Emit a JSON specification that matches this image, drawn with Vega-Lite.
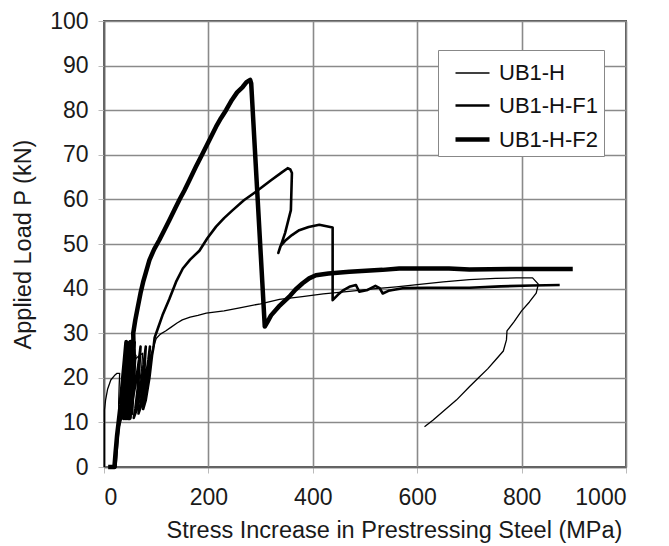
{
  "$schema": "https://vega.github.io/schema/vega-lite/v6.json",
  "width": 522,
  "height": 446,
  "autosize": {"type": "none"},
  "padding": {"left": 104, "top": 21, "right": 43, "bottom": 79},
  "background": "white",
  "config": {
    "font": "Liberation Sans",
    "view": {"stroke": "#555", "strokeWidth": 2},
    "axis": {
      "grid": true,
      "gridColor": "#8a8a8a",
      "gridWidth": 1.6,
      "gridOpacity": 1,
      "domainColor": "#666",
      "domainWidth": 1.6,
      "tickColor": "#bbb",
      "tickSize": 6,
      "labelFont": "Liberation Sans",
      "labelFontSize": 23,
      "labelColor": "#1a1a1a",
      "titleFont": "Liberation Sans",
      "titleFontSize": 23.5,
      "titleFontWeight": "normal",
      "titleColor": "#1a1a1a"
    }
  },
  "data": {
    "values": [
      {"s":"UB1-H","i":1,"x":1,"y":0},{"s":"UB1-H","i":2,"x":1,"y":12.8},{"s":"UB1-H","i":3,"x":3,"y":15},{"s":"UB1-H","i":4,"x":7,"y":17.5},{"s":"UB1-H","i":5,"x":13,"y":19.5},{"s":"UB1-H","i":6,"x":20,"y":20.5},{"s":"UB1-H","i":7,"x":25,"y":21},{"s":"UB1-H","i":8,"x":30,"y":21},{"s":"UB1-H","i":9,"x":29,"y":18},{"s":"UB1-H","i":10,"x":28,"y":14},{"s":"UB1-H","i":11,"x":30,"y":11},{"s":"UB1-H","i":12,"x":33,"y":13},{"s":"UB1-H","i":13,"x":40,"y":17},{"s":"UB1-H","i":14,"x":48,"y":20.5},{"s":"UB1-H","i":15,"x":55,"y":23},{"s":"UB1-H","i":16,"x":61.5,"y":24.4},{"s":"UB1-H","i":17,"x":68,"y":25},{"s":"UB1-H","i":18,"x":74,"y":25.5},{"s":"UB1-H","i":19,"x":72,"y":22},{"s":"UB1-H","i":20,"x":66,"y":17},{"s":"UB1-H","i":21,"x":62,"y":13},{"s":"UB1-H","i":22,"x":65,"y":13},{"s":"UB1-H","i":23,"x":72,"y":17},{"s":"UB1-H","i":24,"x":80,"y":21},{"s":"UB1-H","i":25,"x":88,"y":24.5},{"s":"UB1-H","i":26,"x":95,"y":27},{"s":"UB1-H","i":27,"x":100,"y":28.8},{"s":"UB1-H","i":28,"x":108,"y":29.8},{"s":"UB1-H","i":29,"x":118,"y":30.5},{"s":"UB1-H","i":30,"x":128,"y":31.3},{"s":"UB1-H","i":31,"x":140,"y":32.3},{"s":"UB1-H","i":32,"x":150,"y":33},{"s":"UB1-H","i":33,"x":165,"y":33.6},{"s":"UB1-H","i":34,"x":180,"y":34},{"s":"UB1-H","i":35,"x":196,"y":34.5},{"s":"UB1-H","i":36,"x":230,"y":35},{"s":"UB1-H","i":37,"x":260,"y":35.7},{"s":"UB1-H","i":38,"x":300,"y":36.6},{"s":"UB1-H","i":39,"x":336,"y":37.6},{"s":"UB1-H","i":40,"x":380,"y":38.2},{"s":"UB1-H","i":41,"x":420,"y":38.8},{"s":"UB1-H","i":42,"x":470,"y":39.4},{"s":"UB1-H","i":43,"x":520,"y":40},{"s":"UB1-H","i":44,"x":560,"y":40.4},{"s":"UB1-H","i":45,"x":600,"y":40.9},{"s":"UB1-H","i":46,"x":650,"y":41.5},{"s":"UB1-H","i":47,"x":700,"y":42},{"s":"UB1-H","i":48,"x":750,"y":42.3},{"s":"UB1-H","i":49,"x":790,"y":42.4},{"s":"UB1-H","i":50,"x":821,"y":42.4},{"s":"UB1-H","i":51,"x":832,"y":41},{"s":"UB1-H","i":52,"x":828,"y":39},{"s":"UB1-H","i":53,"x":815,"y":37},{"s":"UB1-H","i":54,"x":800,"y":35},{"s":"UB1-H","i":55,"x":785,"y":32.5},{"s":"UB1-H","i":56,"x":772,"y":30.5},{"s":"UB1-H","i":57,"x":771,"y":28.5},{"s":"UB1-H","i":58,"x":765,"y":26},{"s":"UB1-H","i":59,"x":750,"y":24},{"s":"UB1-H","i":60,"x":735,"y":22},{"s":"UB1-H","i":61,"x":719,"y":20.2},{"s":"UB1-H","i":62,"x":700,"y":18},{"s":"UB1-H","i":63,"x":675,"y":15},{"s":"UB1-H","i":64,"x":650,"y":12.5},{"s":"UB1-H","i":65,"x":630,"y":10.5},{"s":"UB1-H","i":66,"x":614,"y":9},
      {"s":"UB1-H-F1","i":101,"x":14,"y":0},{"s":"UB1-H-F1","i":102,"x":22,"y":0},{"s":"UB1-H-F1","i":103,"x":25,"y":5},{"s":"UB1-H-F1","i":104,"x":28,"y":9},{"s":"UB1-H-F1","i":105,"x":33,"y":11},{"s":"UB1-H-F1","i":106,"x":40,"y":13},{"s":"UB1-H-F1","i":107,"x":48,"y":17},{"s":"UB1-H-F1","i":108,"x":55,"y":21},{"s":"UB1-H-F1","i":109,"x":60,"y":25},{"s":"UB1-H-F1","i":110,"x":56,"y":17},{"s":"UB1-H-F1","i":111,"x":50,"y":12},{"s":"UB1-H-F1","i":112,"x":47,"y":11},{"s":"UB1-H-F1","i":113,"x":53,"y":14},{"s":"UB1-H-F1","i":114,"x":61,"y":19},{"s":"UB1-H-F1","i":115,"x":67,"y":24},{"s":"UB1-H-F1","i":116,"x":70,"y":27},{"s":"UB1-H-F1","i":117,"x":66,"y":19},{"s":"UB1-H-F1","i":118,"x":60,"y":13},{"s":"UB1-H-F1","i":119,"x":57,"y":11},{"s":"UB1-H-F1","i":120,"x":63,"y":13},{"s":"UB1-H-F1","i":121,"x":70,"y":18},{"s":"UB1-H-F1","i":122,"x":76,"y":23},{"s":"UB1-H-F1","i":123,"x":80,"y":27},{"s":"UB1-H-F1","i":124,"x":76,"y":19},{"s":"UB1-H-F1","i":125,"x":70,"y":14},{"s":"UB1-H-F1","i":126,"x":66,"y":12},{"s":"UB1-H-F1","i":127,"x":72,"y":14},{"s":"UB1-H-F1","i":128,"x":79,"y":19},{"s":"UB1-H-F1","i":129,"x":85,"y":24},{"s":"UB1-H-F1","i":130,"x":88,"y":27},{"s":"UB1-H-F1","i":131,"x":84,"y":20},{"s":"UB1-H-F1","i":132,"x":78,"y":15},{"s":"UB1-H-F1","i":133,"x":75,"y":13},{"s":"UB1-H-F1","i":134,"x":80,"y":15},{"s":"UB1-H-F1","i":135,"x":87,"y":20},{"s":"UB1-H-F1","i":136,"x":92,"y":25},{"s":"UB1-H-F1","i":137,"x":95,"y":27},{"s":"UB1-H-F1","i":138,"x":97,"y":29},{"s":"UB1-H-F1","i":139,"x":103,"y":31},{"s":"UB1-H-F1","i":140,"x":112,"y":34},{"s":"UB1-H-F1","i":141,"x":125,"y":37.6},{"s":"UB1-H-F1","i":142,"x":138,"y":41.5},{"s":"UB1-H-F1","i":143,"x":151,"y":44.5},{"s":"UB1-H-F1","i":144,"x":165,"y":46.5},{"s":"UB1-H-F1","i":145,"x":182.8,"y":48.5},{"s":"UB1-H-F1","i":146,"x":198,"y":51.3},{"s":"UB1-H-F1","i":147,"x":214.7,"y":53.9},{"s":"UB1-H-F1","i":148,"x":230,"y":55.8},{"s":"UB1-H-F1","i":149,"x":246.6,"y":57.6},{"s":"UB1-H-F1","i":150,"x":268,"y":59.8},{"s":"UB1-H-F1","i":151,"x":291,"y":61.7},{"s":"UB1-H-F1","i":152,"x":320,"y":64.3},{"s":"UB1-H-F1","i":153,"x":340,"y":66},{"s":"UB1-H-F1","i":154,"x":351.8,"y":67},{"s":"UB1-H-F1","i":155,"x":357,"y":66.7},{"s":"UB1-H-F1","i":156,"x":360,"y":65.9},{"s":"UB1-H-F1","i":157,"x":358,"y":57.6},{"s":"UB1-H-F1","i":158,"x":347,"y":52.5},{"s":"UB1-H-F1","i":159,"x":334,"y":48},{"s":"UB1-H-F1","i":160,"x":338,"y":49.5},{"s":"UB1-H-F1","i":161,"x":348.7,"y":50.9},{"s":"UB1-H-F1","i":162,"x":360,"y":52},{"s":"UB1-H-F1","i":163,"x":374,"y":53.1},{"s":"UB1-H-F1","i":164,"x":392,"y":53.8},{"s":"UB1-H-F1","i":165,"x":412.4,"y":54.3},{"s":"UB1-H-F1","i":166,"x":438,"y":53.7},{"s":"UB1-H-F1","i":167,"x":438,"y":37.4},{"s":"UB1-H-F1","i":168,"x":448,"y":38.6},{"s":"UB1-H-F1","i":169,"x":458,"y":39.6},{"s":"UB1-H-F1","i":170,"x":470,"y":40.4},{"s":"UB1-H-F1","i":171,"x":482.7,"y":40.8},{"s":"UB1-H-F1","i":172,"x":489,"y":39.3},{"s":"UB1-H-F1","i":173,"x":505,"y":39.7},{"s":"UB1-H-F1","i":174,"x":520,"y":40.6},{"s":"UB1-H-F1","i":175,"x":528,"y":40.1},{"s":"UB1-H-F1","i":176,"x":534,"y":38.9},{"s":"UB1-H-F1","i":177,"x":545,"y":39.5},{"s":"UB1-H-F1","i":178,"x":572,"y":40.1},{"s":"UB1-H-F1","i":179,"x":620,"y":40.2},{"s":"UB1-H-F1","i":180,"x":700,"y":40.2},{"s":"UB1-H-F1","i":181,"x":760,"y":40.5},{"s":"UB1-H-F1","i":182,"x":820,"y":40.7},{"s":"UB1-H-F1","i":183,"x":873,"y":40.8},
      {"s":"UB1-H-F2","i":201,"x":8,"y":0},{"s":"UB1-H-F2","i":202,"x":20,"y":0},{"s":"UB1-H-F2","i":203,"x":22,"y":3},{"s":"UB1-H-F2","i":204,"x":25,"y":7},{"s":"UB1-H-F2","i":205,"x":28,"y":10},{"s":"UB1-H-F2","i":206,"x":32,"y":14},{"s":"UB1-H-F2","i":207,"x":36,"y":19},{"s":"UB1-H-F2","i":208,"x":40,"y":24},{"s":"UB1-H-F2","i":209,"x":43,"y":28},{"s":"UB1-H-F2","i":210,"x":40,"y":18},{"s":"UB1-H-F2","i":211,"x":36,"y":12},{"s":"UB1-H-F2","i":212,"x":38,"y":11},{"s":"UB1-H-F2","i":213,"x":42,"y":16},{"s":"UB1-H-F2","i":214,"x":45,"y":22},{"s":"UB1-H-F2","i":215,"x":47,"y":27},{"s":"UB1-H-F2","i":216,"x":44,"y":18},{"s":"UB1-H-F2","i":217,"x":40,"y":12},{"s":"UB1-H-F2","i":218,"x":42,"y":11},{"s":"UB1-H-F2","i":219,"x":46,"y":16},{"s":"UB1-H-F2","i":220,"x":49,"y":23},{"s":"UB1-H-F2","i":221,"x":51,"y":28},{"s":"UB1-H-F2","i":222,"x":48,"y":19},{"s":"UB1-H-F2","i":223,"x":44,"y":12},{"s":"UB1-H-F2","i":224,"x":46,"y":11},{"s":"UB1-H-F2","i":225,"x":50,"y":17},{"s":"UB1-H-F2","i":226,"x":52,"y":22},{"s":"UB1-H-F2","i":227,"x":54,"y":27},{"s":"UB1-H-F2","i":228,"x":51,"y":18},{"s":"UB1-H-F2","i":229,"x":47,"y":12},{"s":"UB1-H-F2","i":230,"x":49,"y":11},{"s":"UB1-H-F2","i":231,"x":53,"y":17},{"s":"UB1-H-F2","i":232,"x":56,"y":24},{"s":"UB1-H-F2","i":233,"x":57,"y":28},{"s":"UB1-H-F2","i":234,"x":54,"y":19},{"s":"UB1-H-F2","i":235,"x":50,"y":13},{"s":"UB1-H-F2","i":236,"x":52,"y":12},{"s":"UB1-H-F2","i":237,"x":55,"y":18},{"s":"UB1-H-F2","i":238,"x":57,"y":25},{"s":"UB1-H-F2","i":239,"x":56,"y":30},{"s":"UB1-H-F2","i":240,"x":60,"y":33},{"s":"UB1-H-F2","i":241,"x":65,"y":36},{"s":"UB1-H-F2","i":242,"x":70,"y":39},{"s":"UB1-H-F2","i":243,"x":75,"y":41.5},{"s":"UB1-H-F2","i":244,"x":80,"y":43.5},{"s":"UB1-H-F2","i":245,"x":87,"y":46.4},{"s":"UB1-H-F2","i":246,"x":96,"y":48.8},{"s":"UB1-H-F2","i":247,"x":106,"y":50.9},{"s":"UB1-H-F2","i":248,"x":116,"y":53.2},{"s":"UB1-H-F2","i":249,"x":125.4,"y":55.4},{"s":"UB1-H-F2","i":250,"x":135,"y":57.7},{"s":"UB1-H-F2","i":251,"x":144.5,"y":59.9},{"s":"UB1-H-F2","i":252,"x":154,"y":62},{"s":"UB1-H-F2","i":253,"x":163.6,"y":64.3},{"s":"UB1-H-F2","i":254,"x":176,"y":67.3},{"s":"UB1-H-F2","i":255,"x":189,"y":70.3},{"s":"UB1-H-F2","i":256,"x":202,"y":73.3},{"s":"UB1-H-F2","i":257,"x":214.7,"y":76.3},{"s":"UB1-H-F2","i":258,"x":224,"y":78.2},{"s":"UB1-H-F2","i":259,"x":233.8,"y":80},{"s":"UB1-H-F2","i":260,"x":245,"y":82.3},{"s":"UB1-H-F2","i":261,"x":255,"y":84},{"s":"UB1-H-F2","i":262,"x":265.6,"y":85.2},{"s":"UB1-H-F2","i":263,"x":273,"y":86.3},{"s":"UB1-H-F2","i":264,"x":280,"y":86.8},{"s":"UB1-H-F2","i":265,"x":282,"y":86},{"s":"UB1-H-F2","i":266,"x":308,"y":31.5},{"s":"UB1-H-F2","i":267,"x":313,"y":32.5},{"s":"UB1-H-F2","i":268,"x":320,"y":34},{"s":"UB1-H-F2","i":269,"x":335,"y":36},{"s":"UB1-H-F2","i":270,"x":355,"y":38.2},{"s":"UB1-H-F2","i":271,"x":367,"y":39.8},{"s":"UB1-H-F2","i":272,"x":380.5,"y":41.2},{"s":"UB1-H-F2","i":273,"x":393,"y":42.3},{"s":"UB1-H-F2","i":274,"x":406,"y":43},{"s":"UB1-H-F2","i":275,"x":430,"y":43.4},{"s":"UB1-H-F2","i":276,"x":470,"y":43.8},{"s":"UB1-H-F2","i":277,"x":533.6,"y":44.2},{"s":"UB1-H-F2","i":278,"x":565.5,"y":44.5},{"s":"UB1-H-F2","i":279,"x":661,"y":44.5},{"s":"UB1-H-F2","i":280,"x":700,"y":44.3},{"s":"UB1-H-F2","i":281,"x":800,"y":44.4},{"s":"UB1-H-F2","i":282,"x":898,"y":44.4}
    ]
  },
  "mark": {"type": "line", "color": "black", "strokeJoin": "round", "strokeCap": "butt"},
  "encoding": {
    "x": {
      "field": "x", "type": "quantitative",
      "scale": {"domain": [0, 1000], "nice": false, "zero": false},
      "axis": {"values": [0, 200, 400, 600, 800, 1000], "format": "d", "title": "Stress Increase in Prestressing Steel (MPa)", "labelPadding": 13, "titlePadding": 9, "titleX": 290}
    },
    "y": {
      "field": "y", "type": "quantitative",
      "scale": {"domain": [0, 100], "nice": false},
      "axis": {"values": [0, 10, 20, 30, 40, 50, 60, 70, 80, 90, 100], "title": "Applied Load P (kN)", "labelPadding": 10, "titlePadding": 14}
    },
    "detail": {"field": "s", "type": "nominal"},
    "order": {"field": "i", "type": "quantitative"},
    "strokeWidth": {
      "field": "s", "type": "ordinal",
      "scale": {"type": "ordinal", "domain": ["UB1-H", "UB1-H-F1", "UB1-H-F2"], "range": [1.3, 2.6, 4.5]},
      "legend": {
        "orient": "none", "legendX": 334, "legendY": 29,
        "title": null,
        "symbolType": "stroke", "symbolSize": 1156, "symbolStrokeColor": "black",
        "labelFont": "Liberation Sans", "labelFontSize": 22, "labelColor": "#111",
        "labelOffset": 7, "symbolOffset": 10,
        "fillColor": "white", "strokeColor": "#888",
        "padding": 5, "rowPadding": 3
      }
    }
  }
}
